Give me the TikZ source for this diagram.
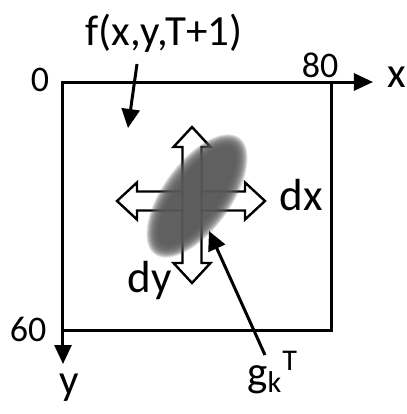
\documentclass[tikz,border=0pt]{standalone}
\usepackage{fontspec}
\setmainfont{Carlito}
\usetikzlibrary{arrows.meta}
\tikzset{
  axis/.style={line width=1.5pt,-{Triangle[length=9.5pt,width=8.5pt]}},
  ptr/.style={line width=1.5pt,-{Triangle[length=9.5pt,width=9pt]}},
  frame/.style={line width=1.5pt},
  lbl/.style={inner sep=0pt,font=\fontsize{21.5}{25}\selectfont},
  numlbl/.style={inner sep=0pt,font=\fontsize{18}{21}\selectfont},
  dlbl/.style={inner sep=0pt,font=\fontsize{22.5}{26}\selectfont},
  hollow/.style={line width=1.2pt,fill=white,line join=miter},
  pics/dblarrow/.style={code={
    % half length #1, head 20, shaft 9.5, head 18.5
    \draw[hollow] (-#1,0) -- (-#1+20,18.5) -- (-#1+20,9.5) -- (#1-20,9.5)
      -- (#1-20,18.5) -- (#1,0) -- (#1-20,-18.5) -- (#1-20,-9.5)
      -- (-#1+20,-9.5) -- (-#1+20,-18.5) -- cycle;
  }}
}
\begin{document}
\begin{tikzpicture}[x=0.5pt,y=-0.5pt]
  \useasboundingbox (0,0) rectangle (407,414);

  % image frame and axes
  \coordinate (orig) at (63,82);
  \coordinate (xend) at (373,82);
  \coordinate (yend) at (63,364);
  \draw[frame] (orig) rectangle (332,330);
  \draw[axis] (orig) -- (xend);
  \draw[axis] (orig) -- (yend);
  \node[lbl] (xlbl) at (397,77) {x};
  \node[lbl] (ylbl) at (69,388) {y};
  \node[numlbl] (zero) at (40,80) {0};
  \node[numlbl] (eighty) at (320,65) {80};
  \node[numlbl] (sixty) at (28,329) {60};

  % shift directions
  \pic at (191,201) {dblarrow=74};
  \pic[rotate=90] at (192,205) {dblarrow=78};
  \node[dlbl] (dx) at (301,195) {dx};
  \node[dlbl] (dy) at (150,280) {dy};

  % blurred object
  \foreach \k in {0,...,13}
    \fill[black!65,opacity=0.2,rotate around={54:(197,196)}]
      (197,196) ellipse [x radius=72-\k, y radius=34-\k];

  % pointers
  \node[lbl] (flbl) at (164,33) {f(x,y,T+1)};
  \coordinate (ftail) at (137,64);
  \coordinate (ftip) at (128,128);
  \draw[ptr] (ftail) -- (ftip);
  \node[lbl,anchor=base west] (glbl) at (247,386)
    {g\textsubscript{k}\textsuperscript{T}};
  \coordinate (gtail) at (265,355);
  \coordinate (gtip) at (209,231);
  \draw[ptr] (gtail) -- (gtip);
\end{tikzpicture}
\end{document}
